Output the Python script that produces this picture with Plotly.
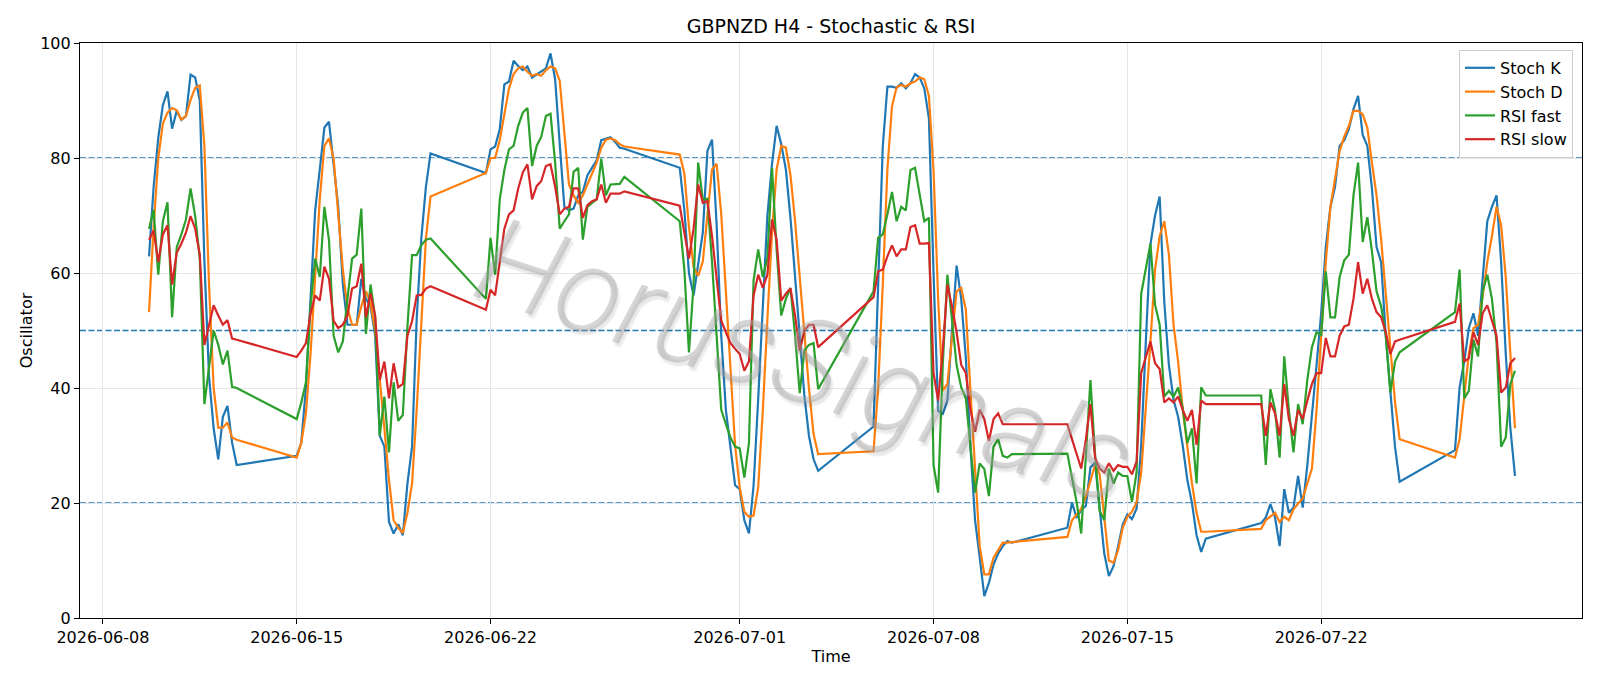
import pandas as pd
import plotly.graph_objects as go

# ---- data (H4 bars; each segment = one run of consecutive 4-hour bars) ----
seg_starts = ["2026-06-09 16:00", "2026-06-15 00:00", "2026-06-21 20:00", "2026-06-28 20:00",
              "2026-07-05 20:00", "2026-07-12 20:00", "2026-07-19 20:00", "2026-07-26 20:00"]
seg_counts = [20, 30, 31, 31, 31, 31, 31, 14]

stoch_k = [
    # seg A
    62.9, 75.0, 83.5, 89.2, 91.6, 85.1, 88.2, 86.6, 87.3, 94.5, 94.0, 90.0, 62.0, 42.0, 33.0, 27.6, 35.0, 36.9, 30.5, 26.6,
    # seg B
    28.2, 30.5, 40.1, 55.5, 70.9, 78.0, 85.3, 86.3, 79.2, 71.5, 58.0, 51.0, 51.0, 51.0, 59.0, 55.5, 54.2, 49.1, 31.7, 29.8,
    16.7, 14.7, 16.3, 14.4, 23.4, 29.8, 52.0, 66.0, 75.0, 80.8,
    # seg C
    77.4, 81.5, 82.0, 85.0, 92.8, 93.3, 96.9, 96.0, 95.3, 95.9, 94.0, 94.5, 95.0, 95.6, 98.2, 93.7, 82.4, 71.5, 70.9, 71.2,
    73.5, 74.1, 77.0, 78.3, 79.6, 83.1, 83.4, 83.6, 82.8, 81.8, 81.6,
    # seg D
    78.3, 71.0, 60.0, 56.1, 61.9, 67.0, 81.2, 83.2, 68.3, 49.1, 36.2, 29.8, 23.1, 22.4, 17.0, 14.7, 23.0, 38.0, 55.0, 70.0,
    79.0, 85.6, 82.4, 78.0, 69.6, 59.3, 49.1, 38.8, 31.7, 27.6, 25.6,
    # seg E
    33.3, 58.0, 82.0, 92.4, 92.4, 92.2, 93.0, 92.1, 93.0, 94.6, 94.0, 92.1, 86.9, 60.0, 36.0, 35.5, 37.8, 50.0, 61.3, 55.5,
    45.2, 29.8, 17.0, 10.6, 3.8, 6.1, 9.3, 11.2, 12.5, 13.4, 13.1,
    # seg F
    15.7, 20.1, 17.4, 18.8, 19.5, 26.2, 27.0, 19.5, 11.2, 7.3, 9.0, 12.5, 16.3, 18.0, 17.2, 19.0, 30.0, 48.0, 65.0, 70.0,
    73.3, 55.0, 44.0, 38.0, 35.0, 30.0, 24.0, 20.0, 14.4, 11.5, 13.8,
    # seg G
    16.5, 17.5, 19.8, 17.5, 12.5, 22.4, 18.3, 19.2, 24.7, 19.2, 26.6, 36.0, 44.0, 53.0, 64.5, 71.5, 75.0, 82.1, 83.1, 85.0,
    88.5, 90.8, 84.0, 82.1, 74.7, 64.5, 61.9, 49.0, 38.8, 29.8, 23.7,
    # seg H
    29.2, 40.1, 44.6, 50.4, 53.0, 49.1, 58.7, 69.0, 71.5, 73.5, 61.9, 45.9, 33.0, 24.7,
]

stoch_d = [
    53.2, 68.0, 80.0, 86.0, 87.9, 88.7, 88.3, 86.7, 87.3, 90.1, 92.2, 92.6, 82.0, 58.0, 40.0, 33.1, 33.1, 34.0, 31.4, 31.0,
    27.9, 30.5, 35.6, 45.9, 59.4, 72.8, 82.1, 83.4, 79.9, 70.2, 60.6, 53.9, 51.0, 51.0, 54.2, 56.8, 54.8, 50.0, 42.0, 33.0,
    24.0, 17.0, 15.7, 14.8, 18.3, 23.4, 36.2, 52.3, 66.0, 73.3,
    77.4, 80.0, 80.0, 83.1, 87.9, 92.1, 94.6, 95.6, 95.9, 95.0, 94.3, 94.6, 94.3, 95.3, 95.9, 95.6, 93.4, 84.4, 75.4, 73.5,
    72.2, 73.5, 75.4, 77.3, 79.2, 81.8, 83.2, 83.4, 83.1, 82.4, 82.0,
    80.6, 77.3, 68.0, 61.0, 59.5, 62.0, 70.0, 78.0, 79.0, 70.2, 56.8, 42.6, 30.0, 22.7, 18.5, 17.6, 17.8, 22.7, 36.0, 52.0,
    67.0, 78.0, 82.1, 81.8, 77.0, 69.0, 59.0, 49.0, 40.0, 32.0, 28.5,
    29.0, 40.0, 58.0, 78.0, 89.0, 92.3, 92.7, 92.4, 93.0, 93.3, 94.0, 93.7, 90.8, 77.9, 55.5, 39.5, 40.7, 49.1, 56.8, 57.4,
    53.6, 39.5, 26.6, 12.5, 7.6, 7.6, 10.5, 11.8, 13.1, 13.1, 13.2,
    14.1, 17.0, 18.0, 19.0, 21.1, 24.0, 26.6, 25.0, 17.0, 10.0, 9.6, 11.8, 15.7, 17.6, 18.5, 20.1, 25.3, 36.2, 48.0, 60.6,
    66.4, 69.0, 63.2, 51.0, 44.6, 36.2, 29.8, 23.4, 18.3, 15.0, 15.0,
    15.5, 17.0, 17.6, 18.3, 16.7, 17.6, 17.0, 18.9, 19.9, 20.8, 23.4, 26.0, 36.2, 49.1, 61.9, 71.5, 76.7, 81.2, 83.7, 85.6,
    88.2, 88.2, 87.6, 85.3, 79.2, 73.5, 65.8, 56.8, 47.2, 37.6, 31.1,
    27.9, 31.1, 38.2, 45.9, 50.4, 51.0, 56.0, 61.9, 66.4, 71.5, 68.3, 59.3, 45.9, 33.0,
]

rsi_fast = [
    67.7, 71.0, 59.7, 69.0, 72.3, 52.3, 64.5, 66.7, 69.3, 74.7, 69.9, 62.5, 37.2, 43.3, 50.0, 47.5, 44.1, 46.5, 40.2, 40.0,
    34.6, 37.5, 41.0, 54.2, 62.5, 59.3, 71.5, 65.7, 49.1, 46.2, 48.1, 55.5, 62.5, 63.2, 71.2, 49.4, 58.0, 52.3, 31.7, 38.5,
    28.8, 41.0, 34.3, 35.3, 50.7, 63.1, 63.1, 64.8, 65.8, 66.0,
    55.5, 66.1, 59.7, 72.8, 77.9, 81.5, 82.1, 85.6, 87.9, 88.7, 78.6, 82.1, 83.7, 87.3, 87.7, 79.2, 67.7, 69.0, 70.2, 77.6,
    78.3, 65.8, 71.5, 72.2, 72.8, 79.9, 73.5, 75.4, 75.4, 75.5, 76.7,
    69.0, 60.6, 46.2, 58.0, 79.2, 72.8, 72.9, 61.9, 49.1, 36.2, 33.7, 31.4, 29.8, 29.5, 24.4, 30.4, 58.7, 64.1, 59.3, 62.5,
    78.3, 64.0, 52.6, 55.5, 57.4, 49.1, 39.1, 46.5, 47.5, 47.8, 39.8,
    56.8, 66.1, 66.7, 70.2, 74.1, 69.0, 71.5, 70.9, 77.9, 78.3, 73.5, 69.0, 69.6, 26.6, 21.8, 44.0, 59.7, 51.7, 44.0, 40.1,
    38.2, 29.8, 21.8, 26.9, 25.9, 21.2, 29.8, 31.1, 28.2, 27.9, 28.5,
    28.6, 24.7, 20.2, 14.7, 28.0, 41.4, 28.5, 18.6, 17.0, 26.0, 23.4, 25.3, 24.7, 24.7, 20.2, 25.3, 56.4, 61.0, 65.1, 54.5,
    51.0, 38.5, 39.5, 38.5, 40.1, 36.5, 30.4, 33.0, 23.4, 40.1, 38.7,
    38.7, 26.6, 39.8, 36.2, 27.9, 45.5, 36.2, 28.8, 37.2, 33.7, 41.4, 47.1, 49.7, 49.1, 60.3, 52.3, 52.3, 59.3, 62.2, 63.2,
    73.5, 79.2, 65.4, 69.7, 63.8, 56.8, 54.2, 49.1, 39.2, 44.6, 46.2,
    53.2, 60.6, 38.2, 39.5, 48.4, 45.5, 56.8, 59.7, 55.5, 47.8, 29.8, 31.4, 40.7, 43.0,
]

rsi_slow = [
    65.8, 67.4, 61.9, 66.7, 68.3, 58.0, 63.5, 65.1, 67.0, 69.9, 67.7, 63.2, 47.5, 50.7, 54.4, 52.6, 51.0, 51.8, 48.6, 48.4,
    45.4, 46.5, 47.8, 52.9, 56.1, 55.2, 61.1, 59.0, 51.7, 50.4, 51.0, 52.6, 57.3, 57.7, 61.6, 52.3, 56.5, 52.6, 41.4, 44.6,
    38.2, 44.3, 40.1, 40.7, 49.1, 51.6, 56.1, 56.2, 57.3, 57.7,
    53.6, 57.1, 56.1, 61.9, 67.7, 70.2, 70.9, 74.7, 77.5, 78.9, 72.8, 75.1, 76.0, 78.6, 78.9, 75.0, 70.2, 71.2, 71.5, 74.7,
    74.7, 69.6, 71.8, 72.5, 72.8, 75.4, 72.2, 73.8, 73.8, 73.8, 74.2,
    71.7, 67.0, 62.5, 67.7, 75.4, 72.2, 72.5, 66.4, 59.3, 51.7, 49.7, 47.8, 46.8, 45.9, 43.0, 44.6, 56.1, 59.7, 57.4, 59.7,
    69.3, 65.8, 55.2, 56.4, 57.3, 52.6, 46.5, 50.0, 51.0, 51.0, 47.1,
    55.8, 60.3, 60.6, 62.9, 64.8, 62.9, 64.1, 64.1, 68.0, 68.3, 65.1, 65.1, 65.2, 42.6, 37.8, 46.5, 58.0, 54.2, 49.7, 44.0,
    42.6, 36.2, 32.4, 36.2, 34.6, 30.8, 34.6, 35.6, 33.7, 33.7, 33.7,
    33.7, 31.1, 28.6, 26.0, 31.0, 37.2, 27.9, 26.0, 25.3, 26.9, 25.6, 26.6, 26.3, 26.3, 25.0, 27.2, 42.6, 45.2, 48.1, 44.3,
    43.3, 37.5, 38.2, 37.5, 38.5, 36.2, 34.3, 36.2, 30.1, 37.8, 37.2,
    37.2, 31.7, 37.5, 35.6, 31.7, 40.7, 34.6, 31.7, 36.2, 34.6, 37.8, 40.7, 42.6, 42.6, 48.7, 45.5, 45.5, 49.1, 50.7, 51.0,
    55.5, 61.9, 56.4, 59.0, 55.5, 53.2, 52.3, 49.7, 45.9, 48.1, 48.4,
    51.5, 54.7, 44.6, 45.2, 49.7, 47.5, 53.0, 54.4, 51.7, 49.1, 39.2, 40.1, 44.3, 45.2,
]

levels = [80, 50, 20]
x_ticks = ["2026-06-08", "2026-06-15", "2026-06-22", "2026-07-01", "2026-07-08", "2026-07-15", "2026-07-22"]
y_ticks = [0, 20, 40, 60, 80, 100]

# ---- timestamps ----
times = []
for s, n in zip(seg_starts, seg_counts):
    times.extend(list(pd.date_range(s, periods=n, freq="4h")))

FONT = "DejaVu Sans"
fig = go.Figure()
series = [("Stoch K", stoch_k, "#1f77b4"), ("Stoch D", stoch_d, "#ff7f0e"),
          ("RSI fast", rsi_fast, "#2ca02c"), ("RSI slow", rsi_slow, "#d62728")]
for name, vals, col in series:
    fig.add_trace(go.Scatter(x=times, y=vals, mode="lines", name=name,
                             line=dict(color=col, width=2.2)))

for lv in levels:
    fig.add_shape(type="line", xref="paper", x0=0, x1=1, yref="y", y0=lv, y1=lv,
                  line=dict(color="#1f77b4", width=1.3, dash="6px,2.5px"), layer="below")

fig.add_annotation(text="HorusSignals", xref="paper", yref="paper", x=0.483, y=0.447,
                   showarrow=False, textangle=18,
                   font=dict(family="Roboto", size=120, color="rgba(165,165,165,0.45)",
                             style="italic", weight=300,
                             shadow="3px 3px 2px rgba(0,0,0,0.2)"))

fig.update_layout(
    width=1600, height=686,
    margin=dict(l=80, r=18, t=43, b=68),
    paper_bgcolor="white", plot_bgcolor="white",
    font=dict(family=FONT, size=16, color="black"),
    title=dict(text="GBPNZD H4 - Stochastic & RSI", x=0.5, xref="paper", y=1 - 26.5 / 686,
               yref="container", xanchor="center", yanchor="middle",
               font=dict(family=FONT, size=19, color="black")),
    legend=dict(x=0.994, y=0.988, xanchor="right", yanchor="top",
                bgcolor="rgba(255,255,255,0.85)", bordercolor="#cccccc", borderwidth=1,
                font=dict(family=FONT, size=16), itemwidth=30, tracegroupgap=0),
    showlegend=True,
)
fig.update_xaxes(
    type="date", range=["2026-06-07 04:10", "2026-07-31 10:05"],
    tickvals=x_ticks, ticktext=x_ticks,
    showgrid=True, gridcolor="#e6e6e6", gridwidth=1.2,
    showline=True, linecolor="black", linewidth=1.2, mirror=True,
    ticks="outside", ticklen=5, tickcolor="black",
    tickfont=dict(family=FONT, size=16),
    title=dict(text="Time", font=dict(family=FONT, size=16), standoff=4),
    zeroline=False,
)
fig.update_yaxes(
    range=[0, 100], tickvals=y_ticks,
    showgrid=True, gridcolor="#e6e6e6", gridwidth=1.2,
    showline=True, linecolor="black", linewidth=1.2, mirror=True,
    ticks="outside", ticklen=5, tickcolor="black",
    tickfont=dict(family=FONT, size=16),
    title=dict(text="Oscillator", font=dict(family=FONT, size=16), standoff=3),
    zeroline=False,
)

fig.write_html("out.html")
